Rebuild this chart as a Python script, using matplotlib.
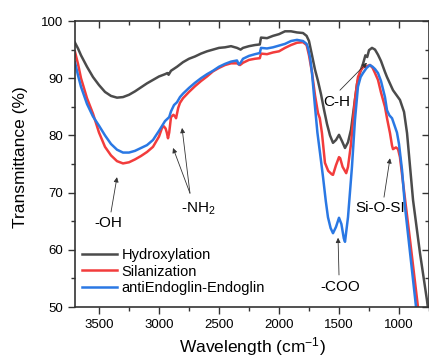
import numpy as np
import matplotlib
matplotlib.use('Agg')
from matplotlib import pyplot as plt
from matplotlib import ticker

plt.rcParams['font.family'] = ['Liberation Sans', 'DejaVu Sans']
plt.rcParams['mathtext.fontset'] = 'custom'
plt.rcParams['mathtext.rm'] = 'Liberation Sans'
plt.rcParams['mathtext.it'] = 'Liberation Sans:italic'

# Hydroxylation spectrum
hyd_wn = [3700, 3675, 3650, 3600, 3550, 3500, 3450, 3400, 3350, 3300, 3250, 3200,
          3150, 3100, 3050, 3000, 2950, 2930, 2920, 2900, 2850, 2800, 2750, 2700,
          2650, 2600, 2550, 2500, 2450, 2400, 2350, 2320, 2300, 2250, 2200, 2160,
          2150, 2100, 2050, 2000, 1950, 1900, 1850, 1800, 1770, 1750, 1725, 1700,
          1675, 1650, 1625, 1600, 1575, 1550, 1525, 1500, 1475, 1450, 1425, 1400,
          1375, 1350, 1325, 1300, 1280, 1265, 1250, 1225, 1200, 1175, 1150, 1117,
          1100, 1050, 992, 958, 933, 883, 825, 767, 750]
hyd_t = [96.2, 95.2, 94.0, 92.0, 90.2, 88.8, 87.6, 86.9, 86.6, 86.7, 87.1, 87.7,
         88.4, 89.1, 89.7, 90.3, 90.7, 90.9, 90.6, 91.3, 92.0, 92.8, 93.4, 93.8,
         94.3, 94.7, 95.0, 95.3, 95.4, 95.6, 95.3, 95.0, 95.3, 95.6, 95.8, 95.9,
         97.1, 97.0, 97.4, 97.7, 98.2, 98.2, 98.0, 97.9, 97.4, 96.5, 94.0, 91.5,
         89.5, 87.2, 84.5, 82.0, 80.0, 78.7, 79.2, 80.1, 79.0, 77.8, 78.8, 81.0,
         85.0, 89.0, 91.0, 92.5, 94.0, 93.7, 94.9, 95.3, 95.0, 94.1, 93.0, 91.1,
         90.2, 87.9, 86.2, 84.1, 80.4, 68.7, 59.4, 51.2, 48.3]

# Silanization spectrum
sil_wn = [3700, 3675, 3650, 3600, 3550, 3500, 3450, 3400, 3350, 3300, 3250, 3200,
          3150, 3100, 3050, 3000, 2975, 2960, 2945, 2935, 2925, 2915, 2900, 2880,
          2865, 2858, 2840, 2825, 2800, 2750, 2700, 2650, 2600, 2550, 2500, 2450,
          2400, 2350, 2325, 2300, 2250, 2200, 2160, 2150, 2100, 2050, 2000, 1950,
          1900, 1850, 1800, 1770, 1750, 1725, 1700, 1675, 1660, 1642, 1617, 1590,
          1560, 1550, 1525, 1500, 1490, 1470, 1440, 1425, 1400, 1392, 1367, 1342,
          1320, 1300, 1270, 1242, 1220, 1200, 1175, 1150, 1117, 1100, 1075, 1058,
          1050, 1025, 1008, 992, 950, 908, 842, 800]
sil_t = [94.6, 92.5, 90.0, 86.5, 83.8, 80.5, 78.0, 76.5, 75.5, 75.1, 75.3, 75.8,
         76.4, 77.1, 78.0, 79.8, 81.3, 81.6, 81.2, 80.5, 79.5, 80.5, 83.2, 83.6,
         83.3, 83.0, 84.8, 85.7, 86.5, 87.6, 88.6, 89.5, 90.3, 91.2, 91.8, 92.3,
         92.6, 92.6, 92.3, 92.7, 93.2, 93.4, 93.5, 94.3, 94.2, 94.5, 94.7, 95.3,
         95.8, 96.2, 96.3, 95.8, 94.0, 91.0, 87.0, 83.9, 83.0, 80.4, 75.2, 73.8,
         73.2, 73.1, 74.8, 76.2, 76.0, 74.5, 73.4, 74.5, 78.5, 80.4, 86.2, 90.2,
         91.3, 91.9, 92.1, 92.3, 91.8, 90.9, 89.7, 87.5, 85.0, 83.0, 80.4, 78.2,
         77.6, 77.9, 77.6, 76.2, 68.9, 61.7, 50.0, 43.0]

# antiEndoglin-Endoglin spectrum
end_wn = [3700, 3675, 3650, 3600, 3550, 3500, 3450, 3400, 3350, 3300, 3250, 3200,
          3150, 3100, 3050, 3000, 2950, 2925, 2915, 2900, 2875, 2850, 2825, 2800,
          2750, 2700, 2650, 2600, 2550, 2500, 2450, 2400, 2350, 2335, 2320, 2300,
          2250, 2200, 2160, 2150, 2100, 2050, 2000, 1950, 1900, 1850, 1800, 1770,
          1758, 1740, 1725, 1700, 1680, 1658, 1633, 1610, 1592, 1570, 1550, 1525,
          1500, 1480, 1460, 1450, 1425, 1392, 1367, 1342, 1320, 1300, 1270, 1242,
          1220, 1200, 1175, 1150, 1117, 1100, 1080, 1058, 1017, 1000, 975, 950,
          908, 858, 800]
end_t = [92.8, 90.5, 88.5, 85.5, 83.3, 81.7, 80.0, 78.5, 77.5, 77.0, 77.0, 77.3,
         77.8, 78.3, 79.2, 80.8, 82.5, 83.0, 83.2, 84.2, 85.3, 85.8, 86.7, 87.3,
         88.3, 89.2, 90.0, 90.7, 91.3, 92.0, 92.5, 92.9, 93.1, 92.4, 92.7, 93.4,
         93.9, 94.2, 94.4, 95.3, 95.2, 95.4, 95.7, 96.0, 96.5, 96.7, 96.5, 96.0,
         95.3, 93.5, 90.9, 85.0, 80.5, 76.9, 72.7, 68.5, 65.7, 63.8, 62.9, 64.0,
         65.6, 64.5, 62.0, 61.4, 65.7, 74.5, 82.7, 88.5, 90.2, 90.9, 91.8, 92.3,
         92.0, 91.6, 90.9, 89.5, 86.7, 84.4, 83.5, 83.0, 80.5, 78.5, 74.0, 67.5,
         59.5, 50.0, 40.0]

series = [
    ('Hydroxylation', hyd_wn, hyd_t, '#4b4b4b'),
    ('Silanization', sil_wn, sil_t, '#f23c3c'),
    ('antiEndoglin-Endoglin', end_wn, end_t, '#2a78e4'),
]

# peak labels: text, text position, arrow tail, arrow heads
peak_labels = [
    ('-OH', (3425, 64.7), (3400, 66.6), [(3350, 72.7)]),
    ('-NH$_2$', (2675, 67.1), (2742, 69.9), [(2883, 77.8), (2808, 81.3)]),
    ('C-H', (1517, 85.8), (1492, 87.9), [(1267, 92.7)]),
    ('Si-O-SI', (1158, 67.3), (1125, 69.2), [(1075, 76.0)]),
    ('-COO', (1492, 53.5), (1500, 55.6), [(1508, 62.1)]),
]

fig = plt.figure(figsize=(4.29, 3.58), dpi=100)
ax = fig.add_axes([75 / 429, 1 - 307 / 358, 354 / 429, 286 / 358])

for name, wn, t, color in series:
    ax.plot(wn, t, color=color, lw=1.8, label=name, solid_joinstyle='round')

for text, text_xy, tail, heads in peak_labels:
    ax.text(text_xy[0], text_xy[1], text, ha='center', va='center', fontsize=11)
    for head in heads:
        ax.annotate('', xy=head, xytext=tail,
                    arrowprops=dict(arrowstyle='-|>', color='#333333', lw=0.6,
                                    mutation_scale=7, shrinkA=0, shrinkB=0))

ax.set_xlim(3700, 750)
ax.set_ylim(50, 100)
ax.xaxis.set_major_locator(ticker.MultipleLocator(500))
ax.xaxis.set_minor_locator(ticker.MultipleLocator(250))
ax.yaxis.set_major_locator(ticker.MultipleLocator(10))
ax.yaxis.set_minor_locator(ticker.MultipleLocator(5))
ax.tick_params(which='both', labelsize=9.5, color='#333333', width=1.0)
ax.tick_params(which='major', length=5)
ax.tick_params(which='minor', length=3)
ax.tick_params(which='both', top=True, right=True)
ax.tick_params(axis='x', which='both', direction='out')
ax.tick_params(axis='y', which='both', direction='out')
for tick in ax.xaxis.get_major_ticks() + ax.xaxis.get_minor_ticks():
    tick.tick2line.set_marker(matplotlib.lines.TICKDOWN)
for tick in ax.yaxis.get_major_ticks() + ax.yaxis.get_minor_ticks():
    tick.tick2line.set_marker(matplotlib.lines.TICKLEFT)
for spine in ax.spines.values():
    spine.set_color('#333333')
    spine.set_linewidth(1.2)

ax.set_xlabel('Wavelength (cm$^{-1}$)', fontsize=12.5)
ax.set_ylabel('Transmittance (%)', fontsize=12.5)
ax.xaxis.set_label_coords(0.5, -0.1)
ax.yaxis.set_label_coords(-0.133, 0.524)

ax.legend(loc='upper left', bbox_to_anchor=(0.02, 0.205), frameon=False,
          fontsize=10.5, handlelength=2.4, handletextpad=0.3, labelspacing=0.15,
          borderaxespad=0, borderpad=0)

fig.savefig('out.png', dpi=100)
plt.close()
